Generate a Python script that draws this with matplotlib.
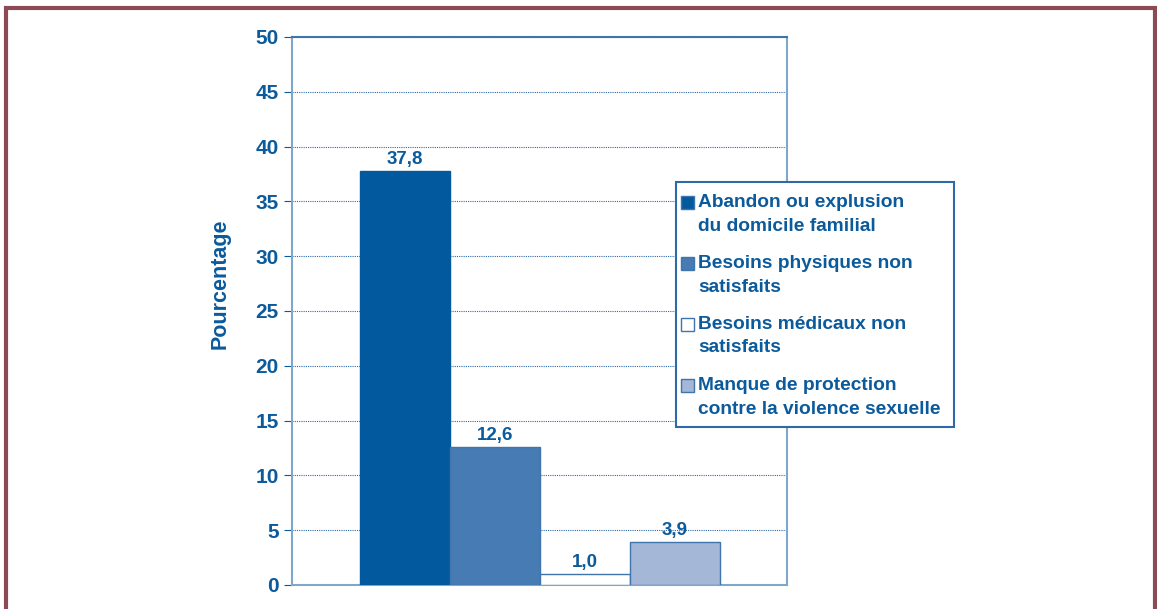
import matplotlib.pyplot as plt
from matplotlib.patches import Rectangle

plt.rcParams['font.family'] = ['Liberation Sans', 'DejaVu Sans']

# Data
categories = ["Abandon ou explusion\ndu domicile familial",
              "Besoins physiques non\nsatisfaits",
              "Besoins médicaux non\nsatisfaits",
              "Manque de protection\ncontre la violence sexuelle"]
values = [37.8, 12.6, 1.0, 3.9]
value_labels = ["37,8", "12,6", "1,0", "3,9"]
yticks = [0, 5, 10, 15, 20, 25, 30, 35, 40, 45, 50]

colors = ["#03599d", "#477bb3", "#ffffff", "#a5b7d7"]
text_blue = "#0b5a9c"
axis_blue = "#7fa6cb"

W, H = 1157, 609
fig = plt.figure(figsize=(W / 100, H / 100), dpi=100)
ax = fig.add_axes([292 / W, 1 - 585 / H, 495 / W, 548 / H])


def px(x, y):
    # pixel position (from top-left) to figure fraction
    return x / W, 1 - y / H


# Maroon frame around the figure
fig.patches.append(Rectangle((6 / W, -0.05), 1149 / W, 1.05 - 8 / H,
                             transform=fig.transFigure, fill=False,
                             edgecolor="#8c4a55", linewidth=3, zorder=10))

for i, (v, c) in enumerate(zip(values, colors)):
    ec = c if i == 0 else "#3f74ad"
    ax.bar(i, v, width=1.0, color=c, edgecolor=ec, linewidth=1, zorder=3)
    ax.annotate(value_labels[i], (i, v), xytext=(0, 2), textcoords="offset points",
                ha="center", va="bottom", fontsize=13.5, fontweight="bold",
                color=text_blue)

ax.set_xlim(-1.256, 4.244)
ax.set_ylim(0, 50)
ax.set_yticks(yticks)
ax.set_xticks([])
ax.tick_params(axis="y", direction="out", length=6, color=text_blue,
               labelsize=15, labelcolor=text_blue, pad=3.5)
for lbl in ax.get_yticklabels():
    lbl.set_fontweight("bold")

ax.yaxis.grid(True, linestyle=(0, (1, 1)), color="#2f6aa8", linewidth=0.8, zorder=0)
for side in ["left", "right", "top", "bottom"]:
    ax.spines[side].set_color(axis_blue)
    ax.spines[side].set_linewidth(1.5)
ax.spines["top"].set_color("#3f74ad")

ax.set_ylabel("Pourcentage", fontsize=15.5, fontweight="bold", color=text_blue)
ax.yaxis.set_label_coords(-0.124, (585 - 284) / 548)

# Legend box, drawn by hand so the squares sit on the first line
x0, y0 = px(676, 427)
x1, y1 = px(954, 182)
fig.patches.append(Rectangle((x0, y0), x1 - x0, y1 - y0, transform=fig.transFigure,
                             facecolor="white", edgecolor="#2f6aa8", linewidth=1.5,
                             zorder=5))
for i, (lab, c) in enumerate(zip(categories, colors)):
    top = 196 + 61 * i
    sx, sy = px(681, top + 13)
    fig.patches.append(Rectangle((sx, sy), 13 / W, 13 / H, transform=fig.transFigure,
                                 facecolor=c, edgecolor="#3f74ad", linewidth=1,
                                 zorder=6))
    tx, ty = px(698, top - 2)
    fig.text(tx, ty, lab, ha="left", va="top", fontsize=13.8, fontweight="bold",
             color=text_blue, linespacing=1.5, zorder=7)

fig.savefig("out.png", dpi=100)
